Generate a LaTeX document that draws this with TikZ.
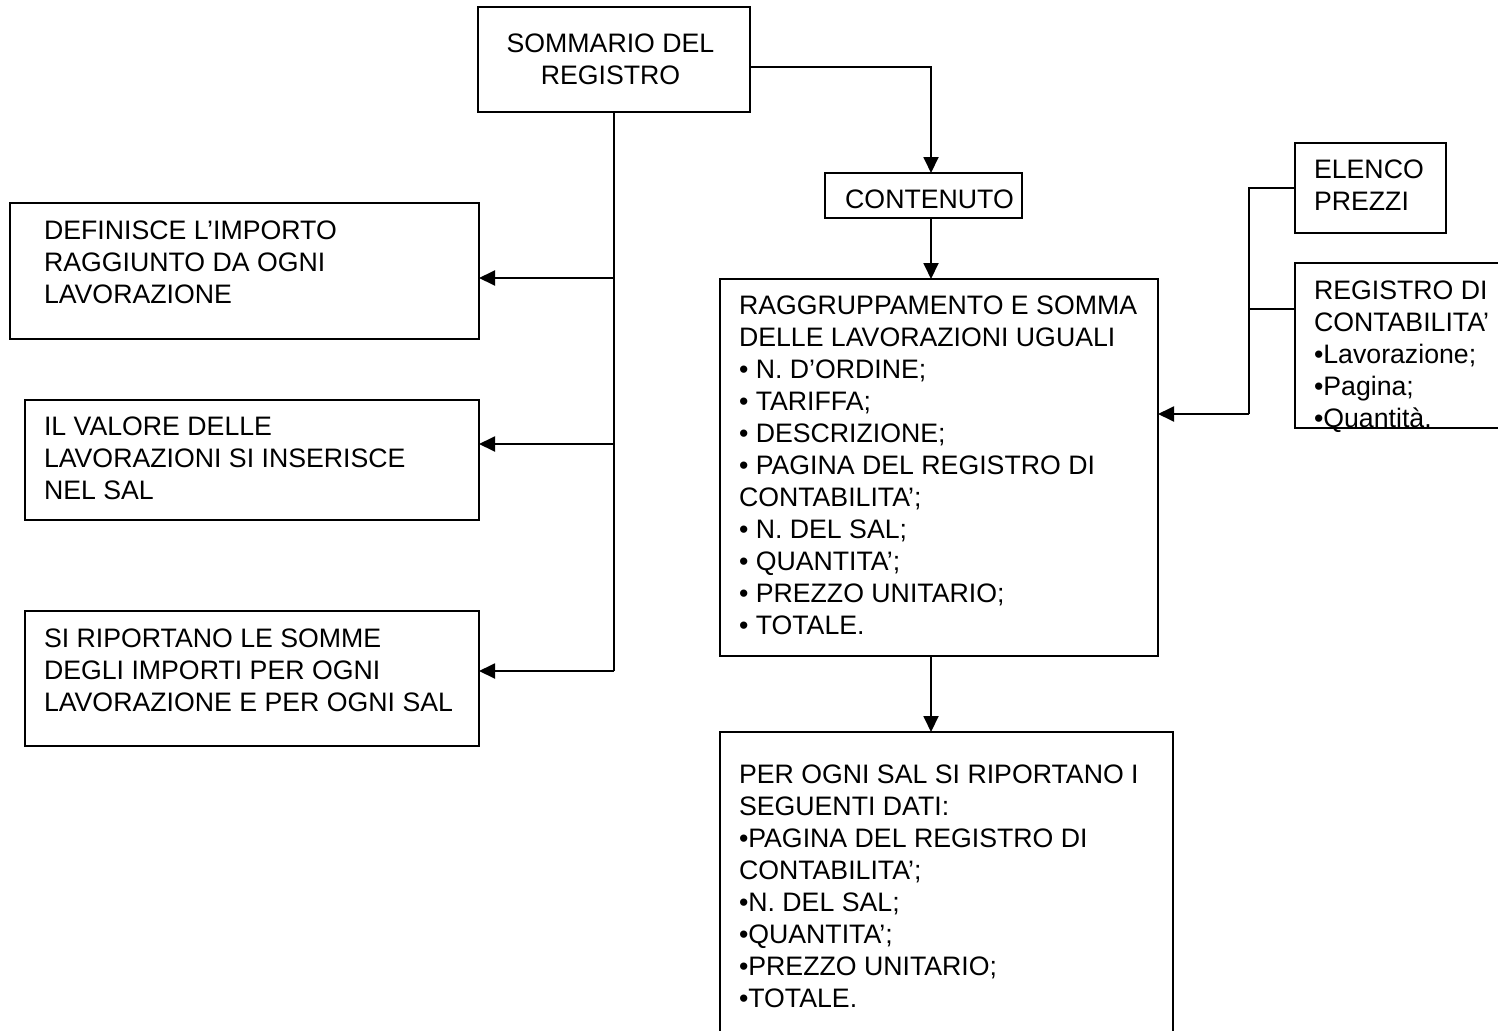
\documentclass[tikz,border=0pt]{standalone}
\usepackage{fontspec}
\setmainfont{Liberation Sans}
\usetikzlibrary{arrows.meta}
\tikzset{
  box/.style={draw, line width=1.9pt, inner sep=0pt, outer sep=0pt},
  txt/.style={inner sep=0pt, outer sep=0pt, align=left, anchor=north west,
    font=\fontsize{26.7}{32}\selectfont},
  ctxt/.style={inner sep=0pt, outer sep=0pt, align=center, anchor=center,
    font=\fontsize{26.7}{32}\selectfont},
  line/.style={line width=1.9pt},
  arr/.style={line width=1.9pt, -{Triangle[length=16pt,width=15pt]}}
}
\begin{document}
\begin{tikzpicture}[x=1pt,y=-1pt]
\useasboundingbox (0,0) rectangle (1498,1030);
\clip (0,0) rectangle (1498,1030);
\fill[white] (0,0) rectangle (1498,1030);

% boxes
\node[box, minimum width=272pt, minimum height=105pt] (somm) at (614,59.5) {};
\node[box, minimum width=197pt, minimum height=45pt] (cont) at (923.5,195.5) {};
\node[box, minimum width=438pt, minimum height=377pt] (ragg) at (939,467.5) {};
\node[box, minimum width=453pt, minimum height=328pt] (per) at (946.5,896) {};
\node[box, minimum width=469pt, minimum height=136pt] (b1) at (244.5,271) {};
\node[box, minimum width=454pt, minimum height=120pt] (b2) at (252,460) {};
\node[box, minimum width=454pt, minimum height=135pt] (b3) at (252,678.5) {};
\node[box, minimum width=151pt, minimum height=90pt] (elenco) at (1370.5,188) {};
\node[box, minimum width=225pt, minimum height=165pt] (reg) at (1407.5,345.5) {};

% texts
\node[ctxt] (sommt) at (610.5,59) {SOMMARIO DEL\\REGISTRO};
\node[ctxt] (contt) at (929.5,199) {CONTENUTO};
\node[txt] (raggt) at (739,295.5) {RAGGRUPPAMENTO E SOMMA\\DELLE LAVORAZIONI UGUALI\\• N. D’ORDINE;\\• TARIFFA;\\• DESCRIZIONE;\\• PAGINA DEL REGISTRO DI\\CONTABILITA’;\\• N. DEL SAL;\\• QUANTITA’;\\• PREZZO UNITARIO;\\• TOTALE.};
\node[txt] (pert) at (739,764.5) {PER OGNI SAL SI RIPORTANO I\\SEGUENTI DATI:\\•PAGINA DEL REGISTRO DI\\CONTABILITA’;\\•N. DEL SAL;\\•QUANTITA’;\\•PREZZO UNITARIO;\\•TOTALE.};
\node[txt] (b1t) at (44,220.5) {DEFINISCE L’IMPORTO\\RAGGIUNTO DA OGNI\\LAVORAZIONE};
\node[txt] (b2t) at (44,416.5) {IL VALORE DELLE\\LAVORAZIONI SI INSERISCE\\NEL SAL};
\node[txt] (b3t) at (44,628.5) {SI RIPORTANO LE SOMME\\DEGLI IMPORTI PER OGNI\\LAVORAZIONE E PER OGNI SAL};
\node[txt] (elencot) at (1314,159.5) {ELENCO\\PREZZI};
\node[txt] (regt) at (1314,280.5) {REGISTRO DI\\CONTABILITA’\\•Lavorazione;\\•Pagina;\\•Quantità.};

% junction coordinates
\coordinate (cx) at (931,0);
\coordinate (sr) at (750,67);
\coordinate (j1) at (614,278);
\coordinate (j2) at (614,444);
\coordinate (j3) at (614,671);
\coordinate (rj) at (1249,309);
\coordinate (rt) at (1249,414);

% connectors
\draw[arr] (sr) -| (cx |- cont.north);
\draw[arr] (cx |- cont.south) -- (cx |- ragg.north);
\draw[arr] (cx |- ragg.south) -- (cx |- per.north);
\draw[line] (somm.south) -- (j3);
\draw[arr] (j1) -- (j1 -| b1.east);
\draw[arr] (j2) -- (j2 -| b2.east);
\draw[arr] (j3) -- (j3 -| b3.east);
\draw[line] (elenco.west) -| (rt);
\draw[line] (rj) -- (rj -| reg.west);
\draw[arr] (rt) -- (rt -| ragg.east);
\end{tikzpicture}
\end{document}
